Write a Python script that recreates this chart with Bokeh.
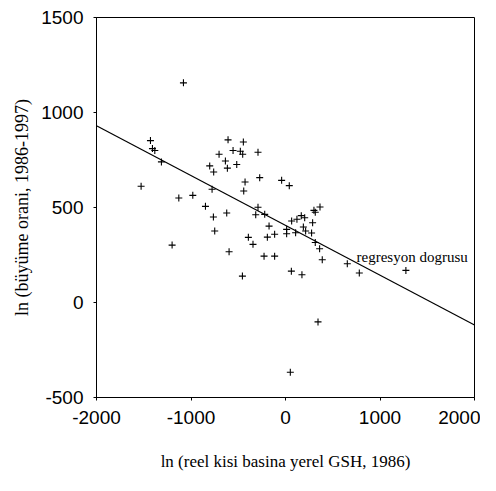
from bokeh.plotting import figure
from bokeh.models import Range1d, FixedTicker, ColumnDataSource
from bokeh.core.properties import value
from bokeh.embed import file_html
from bokeh.resources import INLINE

# scatter data
gsh = [-1080, -1429, -1408, -1383, -1313, -1528, -1129, -981, -1200, -847,
       -802, -760, -777, -763, -749, -703, -622, -597, -608, -636,
       -615, -555, -516, -478, -453, -446, -428, -442, -393, -344,
       -456, -291, -273, -291, -315, -220, -174, -192, -227, -115,
       -115, -41, 40, 12, 12, 65, 107, 121, 167, 203,
       189, 213, 62, 174, 287, 276, 301, 315, 365, 315,
       361, 389, 344, 51, 654, 781, 1274]
growth = [1156, 852, 810, 800, 740, 612, 550, 564, 302, 506,
          719, 687, 596, 450, 376, 780, 471, 267, 856, 745,
          707, 800, 726, 796, 780, 845, 634, 587, 343, 306,
          139, 791, 657, 501, 462, 464, 402, 344, 244, 359,
          244, 643, 615, 385, 362, 429, 367, 438, 457, 446,
          397, 376, 165, 146, 420, 366, 485, 475, 503, 316,
          283, 225, -102, -367, 204, 155, 169]

# regression line end points
line_x = [-2000, 2000]
line_y = [930, -118]

x_ticks = [-2000, -1000, 0, 1000, 2000]
x_tick_labels = ["-2000", "-1000", "0", "1000", "2000"]
y_ticks = [-500, 0, 500, 1000, 1500]
y_tick_labels = ["-500", "0", "500", "1000", "1500"]

label_x = [752]
label_y = [242]
label_text = ["regresyon dogrusu"]

p = figure(width=480, height=475, output_backend="svg", toolbar_location=None,
           x_range=Range1d(-2000, 2000), y_range=Range1d(-500, 1500),
           min_border_left=96, min_border_right=6, min_border_top=17,
           min_border_bottom=78)
p.grid.visible = False
p.outline_line_color = "black"
p.outline_line_width = 1
p.background_fill_color = "white"
p.border_fill_color = "white"

for ax in (p.xaxis[0], p.yaxis[0]):
    ax.axis_line_color = "black"
    ax.major_tick_line_color = "black"
    ax.major_tick_out = 3
    ax.major_tick_in = 0
    ax.minor_tick_line_color = None
    ax.major_label_text_font = "Liberation Sans"
    ax.major_label_text_font_size = "19px"
    ax.major_label_text_color = "black"
    ax.axis_label_text_font = "Liberation Serif"
    ax.axis_label_text_font_style = "normal"
    ax.axis_label_text_color = "black"

p.xaxis[0].ticker = FixedTicker(ticks=x_ticks)
p.yaxis[0].ticker = FixedTicker(ticks=y_ticks)
p.xaxis[0].major_label_overrides = dict(zip(x_ticks, x_tick_labels))
p.yaxis[0].major_label_overrides = dict(zip(y_ticks, y_tick_labels))
p.xaxis[0].major_label_standoff = 10
p.yaxis[0].major_label_standoff = 10
p.xaxis[0].axis_label = "ln (reel kisi basina yerel GSH, 1986)"
p.yaxis[0].axis_label = "ln (büyüme orani, 1986-1997)"
p.xaxis[0].axis_label_text_font_size = "17px"
p.yaxis[0].axis_label_text_font_size = "18px"
p.xaxis[0].axis_label_standoff = 25
p.yaxis[0].axis_label_standoff = 6

p.line(line_x, line_y, line_color="black", line_width=1.2)
p.scatter(gsh, growth, marker="cross", size=7, line_color="black", line_width=1.1)

src = ColumnDataSource(dict(x=label_x, y=label_y, t=label_text))
p.text(x="x", y="y", text="t", source=src, text_font=value("Liberation Serif"),
       text_font_size="15px", text_color="black", text_baseline="alphabetic",
       text_align="left")

open("out.html", "w").write(file_html(p, INLINE))
